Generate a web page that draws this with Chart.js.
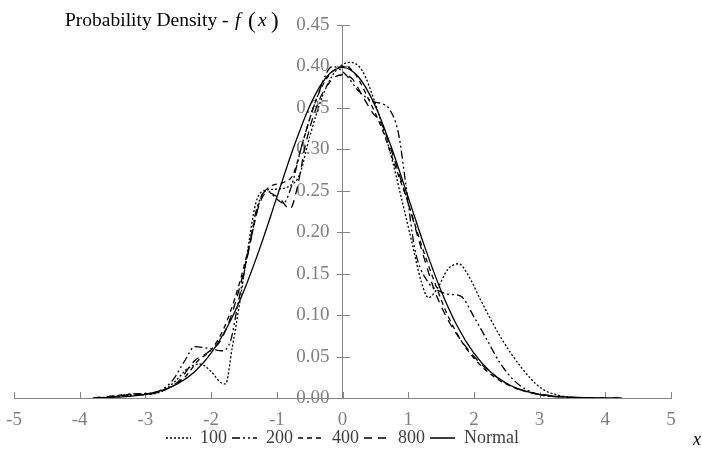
<!DOCTYPE html>
<html><head><meta charset="utf-8">
<script src="https://cdn.jsdelivr.net/npm/chart.js@4/dist/chart.umd.min.js"></script>
<style>html,body{margin:0;padding:0;background:#fff}</style>
</head><body>
<canvas id="c" width="702" height="452"></canvas>
<script>
// ---- data ----
const seriesNames = ['100', '200', '400', '800', 'Normal'];

const x100 = [-3.6,-3.3,-3.0,-2.75,-2.55,-2.35,-2.17,-2.0,-1.86,-1.78,-1.68,-1.56,-1.45,-1.32,-1.2,-1.0,-0.8,-0.65,-0.5,-0.3,-0.1,0.12,0.3,0.5,0.73,0.9,1.05,1.2,1.31,1.45,1.6,1.77,1.9,2.11,2.41,2.72,3.02,3.3,3.6];
const y100 = [0.000,0.003,0.004,0.008,0.020,0.036,0.041,0.032,0.019,0.017,0.060,0.117,0.175,0.235,0.250,0.252,0.256,0.270,0.315,0.365,0.395,0.405,0.395,0.355,0.295,0.240,0.190,0.140,0.121,0.133,0.155,0.162,0.150,0.117,0.073,0.037,0.012,0.003,0.000];

const x200 = [-3.5,-3.2,-2.9,-2.6,-2.4,-2.25,-2.05,-1.83,-1.7,-1.6,-1.45,-1.3,-1.15,-1.0,-0.9,-0.8,-0.6,-0.4,-0.15,0.05,0.25,0.45,0.6,0.7,0.85,0.96,1.1,1.3,1.5,1.65,1.8,2.0,2.2,2.4,2.6,2.8,3.0,3.3];
const y200 = [0.001,0.005,0.006,0.020,0.045,0.062,0.060,0.057,0.070,0.110,0.170,0.230,0.250,0.240,0.235,0.250,0.310,0.360,0.400,0.390,0.370,0.358,0.355,0.350,0.320,0.260,0.180,0.140,0.128,0.125,0.123,0.098,0.070,0.042,0.022,0.010,0.004,0.001];

const x400 = [-3.7,-3.3,-3.0,-2.7,-2.4,-2.2,-2.0,-1.8,-1.6,-1.4,-1.25,-1.1,-0.9,-0.75,-0.6,-0.4,-0.2,0.05,0.2,0.4,0.6,0.8,1.0,1.2,1.4,1.6,1.8,2.0,2.3,2.6,3.0,3.4,3.8];
const y400 = [0.000,0.004,0.005,0.010,0.025,0.045,0.058,0.085,0.130,0.190,0.240,0.255,0.260,0.270,0.310,0.360,0.390,0.400,0.390,0.360,0.325,0.280,0.235,0.185,0.140,0.100,0.070,0.048,0.026,0.013,0.004,0.001,0.000];

const x800 = [-3.8,-3.4,-3.1,-2.8,-2.5,-2.25,-2.05,-1.85,-1.65,-1.45,-1.3,-1.15,-0.95,-0.8,-0.7,-0.55,-0.35,-0.15,0.0,0.15,0.3,0.45,0.6,0.8,1.0,1.2,1.4,1.6,1.8,2.0,2.3,2.6,2.9,3.3,3.7,4.2];
const y800 = [0.000,0.003,0.004,0.007,0.020,0.045,0.055,0.070,0.110,0.170,0.225,0.248,0.240,0.228,0.250,0.310,0.360,0.385,0.390,0.385,0.365,0.345,0.330,0.285,0.235,0.180,0.130,0.095,0.070,0.050,0.028,0.013,0.006,0.002,0.000,0.000];

const xNormal = [-3.75,-3.5,-3.25,-3.0,-2.75,-2.5,-2.25,-2.0,-1.75,-1.5,-1.25,-1.0,-0.75,-0.5,-0.25,0,0.25,0.5,0.75,1.0,1.25,1.5,1.75,2.0,2.25,2.5,2.75,3.0,3.25,3.5,3.75,4.0,4.25];
const yNormal = [0.0004,0.0009,0.0020,0.0044,0.0091,0.0175,0.0317,0.0540,0.0863,0.1295,0.1826,0.2420,0.3011,0.3521,0.3867,0.3989,0.3867,0.3521,0.3011,0.2420,0.1826,0.1295,0.0863,0.0540,0.0317,0.0175,0.0091,0.0044,0.0020,0.0009,0.0004,0.0001,0.0000];

const xTickValues = [-5,-4,-3,-2,-1,0,1,2,3,4,5];
const yTickValues = [0,0.05,0.10,0.15,0.20,0.25,0.30,0.35,0.40,0.45];
const yTitle = ['Probability Density - ', 'f', '(', 'x', ')'];
const xTitle = 'x';

// ---- chart ----
const FONT = '"Liberation Serif", "Times New Roman", serif';
const AXIS = '#868686';
const TICK = '#7f7f7f';

function pts(xs, ys) { return xs.map((v, i) => ({ x: v, y: ys[i] })); }
// dash patterns chosen so the 25px legend sample keeps its dashes
const dashes = [[2, 2], [8, 3, 2, 3, 2, 3], [5, 4], [8, 6], []];
const series = [[x100, y100], [x200, y200], [x400, y400], [x800, y800], [xNormal, yNormal]];

function shiftLabels(dx, dy) {
  return (s) => {
    if (s._shiftPatched) return;
    s._shiftPatched = true;
    const orig = s.drawLabels;
    s.drawLabels = function (area) {
      const c = this.ctx; c.save(); c.translate(dx, dy); orig.call(this, area); c.restore();
    };
  };
}

const decor = {
  id: 'decor',
  beforeDatasetsDraw(chart) {
    const { ctx, scales: { x, y } } = chart;
    const x0 = Math.round(x.getPixelForValue(0)), y0 = Math.round(y.getPixelForValue(0));
    ctx.save();
    ctx.strokeStyle = AXIS; ctx.lineWidth = 1;
    ctx.beginPath();
    y.ticks.forEach(t => { const p = Math.round(y.getPixelForValue(t.value)) + 0.5; ctx.moveTo(x0 - 6, p); ctx.lineTo(x0 + 7, p); });
    x.ticks.forEach(t => { const p = Math.round(x.getPixelForValue(t.value)) + 0.5; ctx.moveTo(p, y0); ctx.lineTo(p, y0 - 6); });
    ctx.stroke();
    ctx.restore();
  },
  afterDraw(chart) {
    const { ctx, scales: { y } } = chart;
    ctx.save();
    ctx.fillStyle = '#000';
    ctx.textBaseline = 'middle';
    const py = y.getPixelForValue(0.45) - 4;
    const xs = [65, 235, 248, 258, 271];
    const fonts = ['19.5px ', 'italic 19.5px ', '23px ', 'italic 19.5px ', '23px '];
    yTitle.forEach((s, i) => {
      ctx.font = fonts[i] + FONT;
      ctx.fillText(s, xs[i], py + (i === 2 || i === 4 ? 1 : 0));
    });
    ctx.font = 'italic 18px ' + FONT;
    ctx.fillText(xTitle, 693, 440);
    ctx.restore();
  }
};

new Chart(document.getElementById('c'), {
  type: 'scatter',
  data: {
    datasets: series.map((s, i) => ({
      label: seriesNames[i],
      data: pts(s[0], s[1]),
      showLine: true,
      borderColor: '#000',
      backgroundColor: '#000',
      borderWidth: 1.3,
      borderDash: dashes[i],
      pointRadius: 0,
      pointHoverRadius: 0,
      cubicInterpolationMode: 'monotone',
      fill: false
    }))
  },
  options: {
    responsive: false,
    animation: false,
    devicePixelRatio: 1,
    layout: { padding: { left: 14, right: 31, top: 25, bottom: -5 } },
    plugins: {
      tooltip: { enabled: false },
      legend: {
        position: 'bottom',
        labels: {
          boxWidth: 25,
          boxHeight: 0,
          padding: 5,
          color: '#404040',
          font: { family: FONT, size: 18 }
        }
      }
    },
    scales: {
      x: {
        type: 'linear',
        position: 'bottom',
        min: -5, max: 5,
        afterBuildTicks: (s) => { s.ticks = xTickValues.map(v => ({ value: v })); },
        afterFit: shiftLabels(0, 9.5),
        ticks: { color: TICK, font: { family: FONT, size: 19, lineHeight: 1 }, padding: 3.5, maxRotation: 0 },
        grid: { display: false, drawTicks: false },
        border: { display: true, color: AXIS, width: 1 }
      },
      y: {
        type: 'linear',
        position: { x: 0 },
        min: 0, max: 0.45,
        afterBuildTicks: (s) => { s.ticks = yTickValues.map(v => ({ value: v })); },
        afterFit: shiftLabels(-13, 0),
        ticks: { color: TICK, font: { family: FONT, size: 19 }, callback: v => Number(v).toFixed(2) },
        grid: { display: false, drawTicks: false },
        border: { display: true, color: AXIS, width: 1 }
      }
    }
  },
  plugins: [decor]
});
</script>
</body></html>
